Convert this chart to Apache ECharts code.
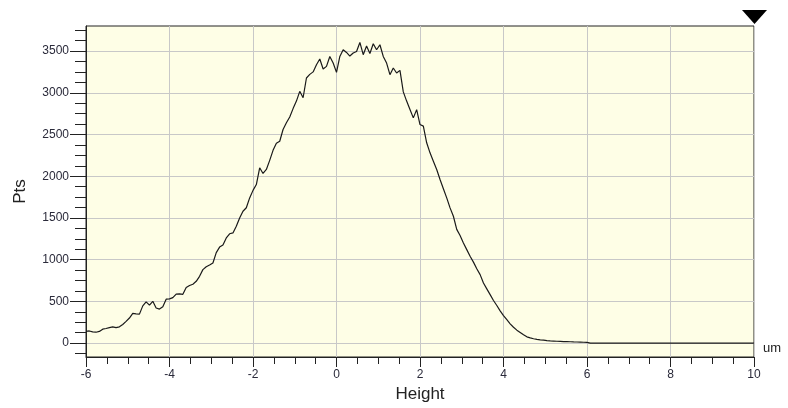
<!DOCTYPE html>
<html><head><meta charset="utf-8">
<script src="https://cdn.jsdelivr.net/npm/echarts@6/dist/echarts.min.js"></script>
<style>html,body{margin:0;padding:0;background:#fff}#c{width:788px;height:408px}</style>
</head><body><div id="c"></div>
<script>
// Height (um)
const heights = [
-6.00,-5.92,-5.84,-5.76,-5.68,-5.60,-5.52,-5.44,-5.36,-5.28,
-5.20,-5.12,-5.04,-4.96,-4.88,-4.80,-4.72,-4.64,-4.56,-4.48,
-4.40,-4.32,-4.24,-4.16,-4.08,-4.00,-3.92,-3.84,-3.76,-3.68,
-3.60,-3.52,-3.44,-3.36,-3.28,-3.20,-3.12,-3.04,-2.96,-2.88,
-2.80,-2.72,-2.64,-2.56,-2.48,-2.40,-2.32,-2.24,-2.16,-2.08,
-2.00,-1.92,-1.84,-1.76,-1.68,-1.60,-1.52,-1.44,-1.36,-1.28,
-1.20,-1.12,-1.04,-0.96,-0.88,-0.80,-0.72,-0.64,-0.56,-0.48,
-0.40,-0.32,-0.24,-0.16,-0.08,0.00,0.08,0.16,0.24,0.32,
0.40,0.48,0.56,0.64,0.72,0.80,0.88,0.96,1.04,1.12,
1.20,1.28,1.36,1.44,1.52,1.60,1.68,1.76,1.84,1.92,
2.00,2.08,2.16,2.24,2.32,2.40,2.48,2.56,2.64,2.72,
2.80,2.88,2.96,3.04,3.12,3.20,3.28,3.36,3.44,3.52,
3.60,3.68,3.76,3.84,3.92,4.00,4.08,4.16,4.24,4.32,
4.40,4.48,4.56,4.64,4.72,4.80,4.88,4.96,5.04,5.12,
5.20,5.28,5.36,5.44,5.52,5.60,5.68,5.76,5.84,5.92,
6.00,6.08,10.00
];
// Pts
const counts = [
140,145,135,130,140,167,175,185,195,185,
195,223,260,300,355,350,347,446,494,454,
500,420,407,435,526,530,545,586,590,584,
666,690,705,740,800,880,915,935,960,1084,
1150,1175,1260,1310,1320,1400,1500,1580,1622,1740,
1830,1900,2101,2033,2081,2190,2310,2395,2419,2560,
2640,2710,2810,2900,3017,2940,3177,3220,3250,3336,
3404,3285,3316,3435,3356,3244,3435,3515,3483,3440,
3476,3495,3603,3456,3560,3470,3587,3515,3575,3435,
3356,3217,3297,3237,3268,3010,2900,2800,2699,2798,
2619,2600,2400,2280,2180,2080,1960,1850,1740,1620,
1520,1363,1290,1200,1120,1040,970,890,820,720,
650,580,510,450,386,330,280,230,190,155,
128,100,75,62,52,44,39,35,30,26,
24,22,20,18,17,16,14,13,12,10,
8,0,0
];
const yMajorTicks = [0,500,1000,1500,2000,2500,3000,3500];
const yMinorTicks = [-125,0,125,250,375,500,625,750,875,1000,1125,1250,1375,1500,1625,1750,1875,2000,2125,2250,2375,2500,2625,2750,2875,3000,3125,3250,3375,3500,3625,3750];
const xMin = -6, xMax = 10, xStep = 2;
const yMin = -167, yMax = 3800;

const FONT = 'Liberation Sans, Arial, sans-serif';
const ink = '#222';
const chart = echarts.init(document.getElementById('c'), null, {renderer:'canvas'});
chart.setOption({
  animation: false,
  backgroundColor: '#ffffff',
  grid: {left: 86, right: 34, top: 26, bottom: 50, show: true,
         backgroundColor: '#fefee6', borderColor: ink, borderWidth: 1},
  xAxis: {
    type: 'value', min: xMin, max: xMax, interval: xStep,
    name: 'Height', nameLocation: 'middle', nameGap: 29,
    nameTextStyle: {fontFamily: FONT, fontSize: 17, color: ink},
    axisLine: {show: true, onZero: false, lineStyle: {color: ink, width: 1}},
    axisTick: {show: true, length: 10, lineStyle: {color: ink}},
    minorTick: {show: true, splitNumber: 4, length: 7, lineStyle: {color: ink}},
    axisLabel: {margin: 12, fontFamily: FONT, fontSize: 12, color: '#2a2a3a', formatter: v => String(v)},
    splitLine: {show: true, lineStyle: {color: '#c8c8c8', width: 1}}
  },
  yAxis: [{
    type: 'value', min: yMin, max: yMax, position: 'left',
    name: 'Pts', nameLocation: 'middle', nameGap: 57,
    nameTextStyle: {fontFamily: FONT, fontSize: 17, color: ink},
    axisLine: {show: true, onZero: false, lineStyle: {color: ink, width: 1}},
    axisTick: {show: true, customValues: yMajorTicks, length: 16, lineStyle: {color: ink}},
    axisLabel: {customValues: yMajorTicks, margin: 17, fontFamily: FONT, fontSize: 12, color: '#2a2a3a', formatter: v => String(v)},
    splitLine: {show: true, lineStyle: {color: '#c8c8c8', width: 1}}
  }, {
    type: 'value', min: yMin, max: yMax, position: 'left', offset: 0,
    axisLine: {show: false, onZero: false},
    axisTick: {show: true, customValues: yMinorTicks, length: 11, lineStyle: {color: ink}},
    axisLabel: {show: false},
    splitLine: {show: false}
  }],
  graphic: [
    {type: 'text', left: 763, top: 342, style: {text: 'um', fontFamily: FONT, fontSize: 13, fill: ink}},
    {type: 'polygon', shape: {points: [[742,10],[767,10],[754.5,24]]}, style: {fill: '#000'}}
  ],
  series: [{
    type: 'line', yAxisIndex: 0, showSymbol: false, symbol: 'none',
    data: heights.map((h, i) => [h, counts[i]]),
    lineStyle: {color: '#1a1a1a', width: 1.2}
  }]
});
</script></body></html>
